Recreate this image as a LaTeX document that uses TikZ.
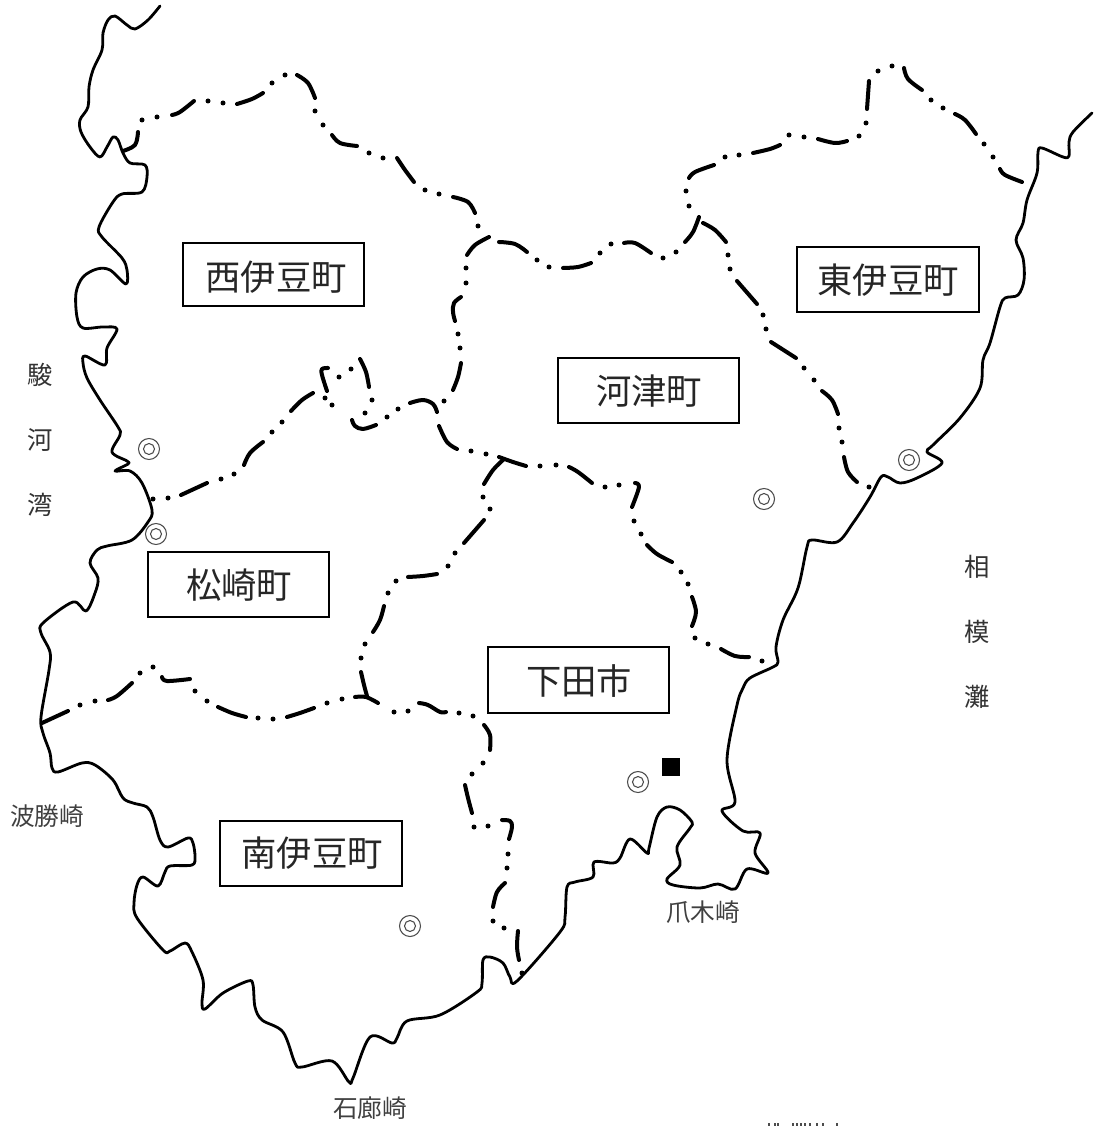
\documentclass[tikz,border=0pt]{standalone}
\usepackage{fontspec}
\newfontfamily\cjk{Noto Sans CJK JP}
\tikzset{
  x=0.75pt,y=-0.75pt,
  coast/.style={line width=2.1pt,line join=round,line cap=round,black},
  bnd/.style={line width=3pt,line cap=round,line join=round,black},
  townbox/.style={draw=black,line width=1.6pt,fill=white,inner sep=0pt,anchor=center,text=black},
  townlabel/.style={font=\cjk\fontsize{26.5pt}{26.5pt}\selectfont,text=black!85,inner sep=0pt},
  sealabel/.style={font=\cjk\fontsize{19pt}{19pt}\selectfont,text=black!80,inner sep=0pt},
  capelabel/.style={font=\cjk\fontsize{18.5pt}{18.5pt}\selectfont,text=black!75,inner sep=0pt},
  seat/.style={draw=black!70,line width=0.8pt},
  cliptick/.style={draw=black!70,line width=1.1pt},
}
\newcommand{\dsh}[1]{\draw[bnd] plot[smooth,tension=0.6] coordinates {#1};}
\newcommand{\dts}[1]{\foreach \p in {#1} {\fill[black] \p circle[radius=2.5];}}
\newcommand{\seatmark}[1]{\draw[seat] #1 circle[radius=10.5]; \draw[seat] #1 circle[radius=5.5];}
\newcommand{\town}[7]{\draw[townbox] (#1,#2) rectangle (#3,#4); \node[townlabel] (#7) at (#5,#6) {#7};}
\begin{document}
\begin{tikzpicture}
\useasboundingbox (0,0) rectangle (1093,1126);
% coast
\draw[coast] plot[smooth,tension=0.55] coordinates {
(160,6)(148,20)(135,29)(127,25)(115,16)(108,20)(103,33)(102,50)(93,70)(89,87)(88,107)(80,120)(81,132)(90,147)(100,157)(107,147)(113,137)(118,140)(123,153)(130,163)(145,165)(147,177)(142,192)(122,194)(113,202)(99,227)(102,237)(122,258)(127,270)(126,284)(110,270)(97,269)(83,277)(76,293)(77,317)(83,328)(103,327)(117,329)(107,348)(105,365)(85,356)(83,363)(87,378)(100,400)(118,427)(120,435)(112,452)(127,461)(128,464)(115,471)(130,471)(142,483)(152,510)(148,522)(132,540)(107,546)(97,550)(90,563)(98,578)(95,593)(86,611)(73,602)(43,623)(41,633)(50,652)(49,670)(41,717)(43,733)(50,753)(52,768)(58,772)(82,763)(95,765)(113,780)(123,798)(133,803)(147,807)(153,817)(160,840)(168,847)(188,838)(193,843)(195,857)(192,865)(170,866)(165,872)(158,886)(143,877)(137,885)(134,903)(137,918)(163,950)(170,951)(185,943)(192,952)(203,980)(202,1003)(205,1009)(223,993)(248,981)(253,985)(255,1007)(262,1020)(283,1032)(295,1063)(302,1067)(332,1061)(349,1082)(353,1078)(370,1037)(392,1043)(397,1038)(407,1021)(440,1015)(477,992)(482,983)(483,960)(490,957)(503,963)(510,977)(517,981)(560,932)(565,917)(567,887)(575,882)(593,877)(594,862)(613,863)(620,858)(630,839)(647,853)(649,848)(657,817)(667,807)(680,810)(692,822)(690,828)(677,847)(680,865)(667,879)(673,885)(700,888)(718,884)(735,889)(747,869)(768,873)(755,853)(760,833)(743,831)(722,811)(735,802)(727,760)(737,705)(743,688)(750,678)(773,667)(778,662)(776,647)(783,620)(798,588)(807,547)(812,540)(837,542)(853,523)(870,497)(881,477)(888,477)(900,483)(917,478)(942,463)(927,452)(933,445)(960,418)(980,388)(983,360)(990,343)(1000,307)(1005,298)(1018,295)(1024,280)(1023,258)(1016,240)(1023,223)(1027,200)(1037,173)(1038,152)(1042,148)(1063,157)(1069,156)(1069,142)(1073,132)(1092,113)};
% north boundary, west
\dsh{(123,151)(135,145)(138,132)}
\dts{(142,120),(157,117)}
\dsh{(172,115)(180,112)(194,101)}
\dts{(208,101),(223,103)}
\dsh{(237,104)(252,99)(263,93)}
\dts{(272,83),(285,75)}
\dsh{(297,75)(308,83)(315,98)}
\dts{(315,111),(323,125)}
\dsh{(332,135)(340,143)(357,146)}
\dts{(369,153),(383,158)}
\dsh{(397,158)(405,170)(414,182)}
\dts{(425,190),(439,194)}
\dsh{(453,197)(468,202)(475,213)}
\dts{(478,226)}
% Nishi-Izu / Kawazu
\dsh{(489,237)(475,245)(467,255)}
\dts{(466,268),(466,283)}
\dsh{(461,297)(454,303)(453,312)(455,321)}
\dts{(458,334),(460,348)}
\dsh{(461,363)(458,377)(453,390)}
\dts{(444,401)}
% ridge to east
\dsh{(499,242)(515,244)(527,252)}
\dts{(537,260),(549,267)}
\dsh{(563,268)(578,267)(591,263)}
\dts{(600,253),(611,244)}
\dsh{(624,243)(635,243)(651,253)}
\dts{(663,258),(676,252)}
\dsh{(685,242)(693,232)(699,217)}
\dts{(689,206),(686,191)}
\dsh{(689,178)(695,172)(714,165)}
\dts{(725,157),(739,155)}
\dsh{(753,153)(770,149)(780,145)}
\dts{(789,135),(804,137)}
\dsh{(818,139)(835,143)(847,141)}
\dts{(859,136),(866,123)}
\dsh{(867,109)(869,81)}
\dts{(878,71),(892,66)}
\dsh{(904,68)(908,79)(922,90)}
\dts{(931,100),(943,108)}
\dsh{(955,114)(965,120)(976,134)}
\dts{(984,144),(993,157)}
\dsh{(1000,169)(1005,175)(1022,182)}
% Higashi-Izu / Kawazu
\dsh{(703,223)(715,230)(726,242)}
\dts{(728,255),(730,269)}
\dsh{(737,281)(757,304)}
\dts{(763,315),(766,329)}
\dsh{(771,342)(796,358)}
\dts{(804,368),(814,380)}
\dsh{(822,391)(832,400)(838,414)}
\dts{(839,428),(842,442)}
\dsh{(844,457)(848,472)(857,482)}
\dts{(869,487)}
% Matsuzaki north with loop
\dts{(153,499),(168,498)}
\dsh{(181,495)(207,483)}
\dts{(221,479),(234,474)}
\dsh{(244,465)(250,453)(263,442)}
\dts{(272,432),(282,422)}
\dsh{(291,411)(302,400)(313,393)}
\dts{(325,398),(332,405)}
\dsh{(327,391)(322,375)(322,369)(328,368)}
\dts{(339,377),(351,369)}
\dsh{(360,359)(366,372)(369,387)}
\dts{(372,400),(365,413)}
\dsh{(352,420)(355,426)(363,429)(376,425)}
\dts{(387,417),(398,409)}
\dsh{(410,403)(423,400)(433,404)(437,412)}
\dsh{(439,426)(447,442)(457,449)}
\dts{(471,451),(486,454)}
\dsh{(499,457)(513,462)(526,466)}
\dts{(540,466),(556,465)}
\dsh{(569,467)(578,472)(592,483)}
\dts{(605,487),(619,485)}
\dsh{(635,483)(639,487)(632,507)}
\dts{(634,521),(641,534)}
\dsh{(647,545)(657,554)(672,562)}
\dts{(681,572),(688,584)}
\dsh{(692,597)(696,612)(692,626)}
\dts{(695,638),(708,644)}
\dsh{(721,649)(735,656)(749,657)}
\dts{(762,661)}
% Shimoda / Matsuzaki
\dsh{(503,460)(493,470)(484,484)}
\dts{(483,497),(490,509)}
\dsh{(484,520)(464,543)}
\dts{(455,553),(448,566)}
\dsh{(437,574)(423,576)(408,577)}
\dts{(396,581),(388,593)}
\dsh{(384,606)(380,620)(373,632)}
\dts{(365,644),(361,658)}
\dsh{(361,672)(364,685)(367,696)}
% Minami-Izu north
\dsh{(42,723)(68,711)}
\dts{(80,705),(95,701)}
\dsh{(108,700)(117,696)(132,683)}
\dts{(140,673),(153,667)}
\dsh{(162,677)(167,681)(190,679)}
\dts{(195,691),(207,701)}
\dsh{(218,707)(232,713)(246,717)}
\dts{(258,718),(273,719)}
\dsh{(287,717)(300,713)(314,708)}
\dts{(327,703),(342,699)}
\dsh{(355,697)(366,697)(378,703)}
\dts{(394,712),(408,711)}
\dsh{(419,703)(428,705)(440,712)(446,712)}
\dts{(459,713),(473,716)}
\dsh{(484,725)(490,735)(490,750)}
\dts{(483,763),(472,774)}
\dsh{(465,785)(468,798)(472,813)}
\dts{(474,827),(488,826)}
\dsh{(502,820)(510,821)(512,827)(509,839)}
\dts{(508,854),(507,868)}
\dsh{(505,883)(497,892)(493,907)}
\dts{(493,921),(504,928)}
\dsh{(518,931)(517,947)(519,960)}
\dts{(522,973)}
% seats
\seatmark{(149,449)}
\seatmark{(156,534)}
\seatmark{(909,460)}
\seatmark{(764,499)}
\seatmark{(638,782)}
\seatmark{(410,926)}
\fill[black] (662,758) rectangle (680,776);
% town boxes
\town{183}{243}{364}{306}{276}{277}{西伊豆町}
\town{797}{247}{979}{312}{888}{280}{東伊豆町}
\town{558}{358}{739}{423}{649}{391}{河津町}
\town{148}{552}{329}{617}{239}{585}{松崎町}
\town{488}{647}{669}{713}{579}{681}{下田市}
\town{220}{821}{402}{886}{312}{853}{南伊豆町}
% seas
\node[sealabel] (s1) at (40,375) {駿};
\node[sealabel] (s2) at (40,440) {河};
\node[sealabel] (s3) at (40,505) {湾};
\node[sealabel] (b1) at (977,567) {相};
\node[sealabel] (b2) at (977,632) {模};
\node[sealabel] (b3) at (977,697) {灘};
% capes
\node[capelabel] (c1) at (47,816) {波勝崎};
\node[capelabel] (c2) at (703,912) {爪木崎};
\node[capelabel] (c3) at (370,1108) {石廊崎};
% tips of a line of text cut off by the lower edge
\foreach \tx in {769,775,778,793,797,801,805,810,817,823,837}
  \draw[cliptick] (\tx,1123) -- (\tx,1126);
\end{tikzpicture}
\end{document}
